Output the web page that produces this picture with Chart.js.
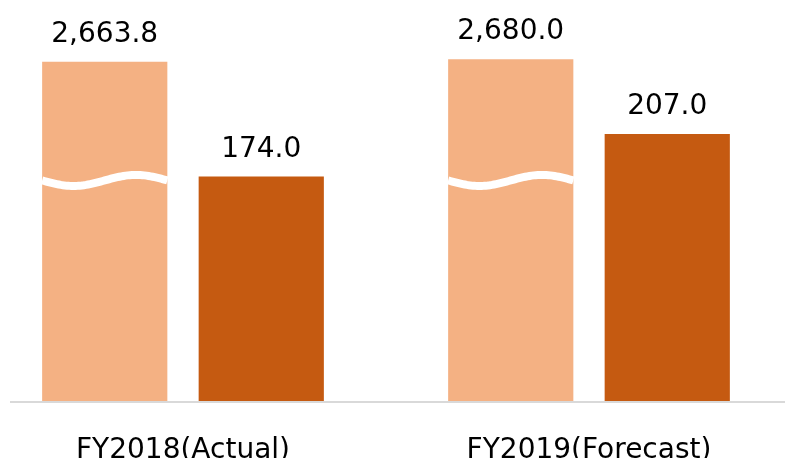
<!DOCTYPE html>
<html lang="en">
<head>
  <meta charset="UTF-8">
  <title>Net sales and operating income</title>
  <script src="https://cdn.jsdelivr.net/npm/chart.js@4.4.1/dist/chart.umd.min.js"></script>
  <style>
    html, body { margin: 0; padding: 0; background: #fff; overflow: hidden; width: 785px; height: 458px; }
    #myChart { position: absolute; left: -30px; top: 0; }
  </style>
</head>
<body>
<canvas id="myChart" width="830" height="458"></canvas>

<script>
// values
const categories = ['FY2018(Actual)', 'FY2019(Forecast)'];
const netSales = [2663.8, 2680.0];        // printed values (axis is broken)
const netSalesShown = [263, 265];         // bar heights as drawn below the break
const opIncome = [174.0, 207.0];
const breakAt = 171;                      // where the wavy cut sits, in axis units

const lightColor = '#F4B183';
const darkColor = '#C55A11';
const fontFamily = '"DejaVu Sans", Verdana, sans-serif';

const fmt = v => v.toLocaleString('en-US', { minimumFractionDigits: 1, maximumFractionDigits: 1 });

// white wave across the broken bars + value labels + baseline
const decorPlugin = {
  id: 'decor',
  afterDatasetsDraw(chart) {
    const ctx = chart.ctx;
    const yScale = chart.scales.y;
    ctx.save();

    // wave on the broken series
    const yWave = yScale.getPixelForValue(breakAt);
    chart.getDatasetMeta(0).data.forEach(bar => {
      const p = bar.getProps(['x', 'width'], true);
      const x0 = p.x - p.width / 2, x1 = p.x + p.width / 2;
      ctx.beginPath();
      for (let i = 0; i <= 60; i++) {
        const t = i / 60;
        const px = x0 + (x1 - x0) * t;
        const py = yWave + 5.5 * Math.sin(2 * Math.PI * t);
        if (i === 0) ctx.moveTo(px, py); else ctx.lineTo(px, py);
      }
      ctx.strokeStyle = '#fff';
      ctx.lineWidth = 8;
      ctx.stroke();
    });

    // value labels
    ctx.fillStyle = '#000';
    ctx.font = '28px ' + fontFamily;
    ctx.textAlign = 'center';
    ctx.textBaseline = 'alphabetic';
    const printed = [netSales, opIncome];
    chart.data.datasets.forEach((ds, di) => {
      chart.getDatasetMeta(di).data.forEach((bar, i) => {
        const p = bar.getProps(['x', 'y'], true);
        ctx.fillText(fmt(printed[di][i]), p.x, p.y - 20);
      });
    });

    // baseline
    const yb = yScale.getPixelForValue(0) + 1;
    ctx.beginPath();
    ctx.moveTo(40, yb);
    ctx.lineTo(chart.width, yb);
    ctx.strokeStyle = '#d9d9d9';
    ctx.lineWidth = 2;
    ctx.stroke();
    ctx.restore();
  }
};

const ctx = document.getElementById('myChart').getContext('2d');
const myChart = new Chart(ctx, {
  type: 'bar',
  data: {
    labels: categories,
    datasets: [
      {
        label: 'Net sales',
        data: netSalesShown,
        backgroundColor: lightColor,
        categoryPercentage: 0.771,
        barPercentage: 0.8
      },
      {
        label: 'Operating income',
        data: opIncome,
        backgroundColor: darkColor,
        categoryPercentage: 0.771,
        barPercentage: 0.8
      }
    ]
  },
  options: {
    responsive: false,
    animation: false,
    layout: { padding: { top: 14, left: 10, right: 8, bottom: 0 } },
    plugins: {
      legend: { display: false },
      tooltip: { enabled: false }
    },
    scales: {
      x: {
        grid: { display: false, drawTicks: false },
        border: { display: false },
        afterFit: scale => { scale.height = 57; },
        ticks: {
          color: '#000',
          padding: 33,
          font: { family: fontFamily, size: 28 }
        }
      },
      y: {
        display: false,
        min: 0,
        max: 300
      }
    }
  },
  plugins: [decorPlugin]
});
</script>
</body>
</html>
